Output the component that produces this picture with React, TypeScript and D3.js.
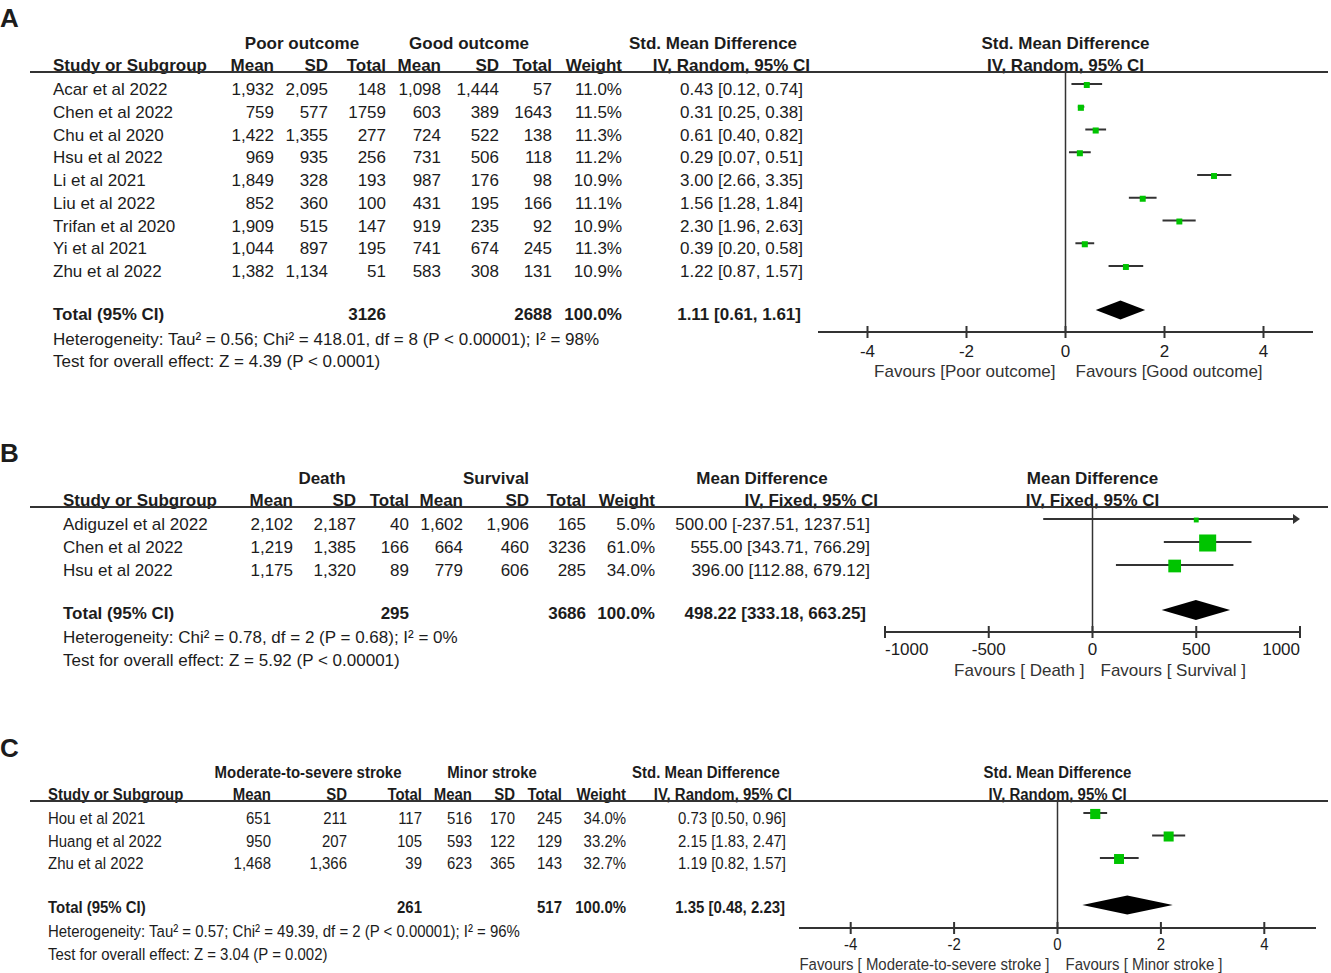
import React from "react";
import * as d3 from "d3";

const W = 1331;
const H = 973;
const FONT = "'Liberation Sans', Arial, Helvetica, sans-serif";
const INK = "#1c1c1c";
const LINE = "#333";
const GREEN = "#00c400";

const loc = d3.formatLocale({ decimal: ".", thousands: ",", grouping: [3], currency: ["", ""], minus: "-" });
const fComma = loc.format(",");
const f2 = loc.format(".2f");
const f1 = loc.format(".1f");
const fTick = loc.format("d");

// ---- panel A : poor vs good outcome
const studiesA = ["Acar et al 2022", "Chen et al 2022", "Chu et al 2020", "Hsu et al 2022", "Li et al 2021", "Liu et al 2022", "Trifan et al 2020", "Yi et al 2021", "Zhu et al 2022"];
const poorMeanA = [1932, 759, 1422, 969, 1849, 852, 1909, 1044, 1382];
const poorSdA = [2095, 577, 1355, 935, 328, 360, 515, 897, 1134];
const poorNA = [148, 1759, 277, 256, 193, 100, 147, 195, 51];
const goodMeanA = [1098, 603, 724, 731, 987, 431, 919, 741, 583];
const goodSdA = [1444, 389, 522, 506, 176, 195, 235, 674, 308];
const goodNA = [57, 1643, 138, 118, 98, 166, 92, 245, 131];
const weightA = [11.0, 11.5, 11.3, 11.2, 10.9, 11.1, 10.9, 11.3, 10.9];
const estA = [0.43, 0.31, 0.61, 0.29, 3.0, 1.56, 2.3, 0.39, 1.22];
const loA = [0.12, 0.25, 0.4, 0.07, 2.66, 1.28, 1.96, 0.2, 0.87];
const hiA = [0.74, 0.38, 0.82, 0.51, 3.35, 1.84, 2.63, 0.58, 1.57];
const totalNA = [3126, 2688];
const totalEffA = [1.11, 0.61, 1.61];
const hetA = "Heterogeneity: Tau² = 0.56; Chi² = 418.01, df = 8 (P < 0.00001); I² = 98%";
const testA = "Test for overall effect: Z = 4.39 (P < 0.0001)";
const ticksA = [-4, -2, 0, 2, 4];

// ---- panel B : death vs survival
const studiesB = ["Adiguzel et al 2022", "Chen et al 2022", "Hsu et al 2022"];
const deathMeanB = [2102, 1219, 1175];
const deathSdB = [2187, 1385, 1320];
const deathNB = [40, 166, 89];
const survMeanB = [1602, 664, 779];
const survSdB = [1906, 460, 606];
const survNB = [165, 3236, 285];
const weightB = [5.0, 61.0, 34.0];
const estB = [500.0, 555.0, 396.0];
const loB = [-237.51, 343.71, 112.88];
const hiB = [1237.51, 766.29, 679.12];
const totalNB = [295, 3686];
const totalEffB = [498.22, 333.18, 663.25];
const hetB = "Heterogeneity: Chi² = 0.78, df = 2 (P = 0.68); I² = 0%";
const testB = "Test for overall effect: Z = 5.92 (P < 0.00001)";
const ticksB = [-1000, -500, 0, 500, 1000];

// ---- panel C : moderate-to-severe vs minor stroke
const studiesC = ["Hou et al 2021", "Huang et al 2022", "Zhu et al 2022"];
const sevMeanC = [651, 950, 1468];
const sevSdC = [211, 207, 1366];
const sevNC = [117, 105, 39];
const minMeanC = [516, 593, 623];
const minSdC = [170, 122, 365];
const minNC = [245, 129, 143];
const weightC = [34.0, 33.2, 32.7];
const estC = [0.73, 2.15, 1.19];
const loC = [0.5, 1.83, 0.82];
const hiC = [0.96, 2.47, 1.57];
const totalNC = [261, 517];
const totalEffC = [1.35, 0.48, 2.23];
const hetC = "Heterogeneity: Tau² = 0.57; Chi² = 49.39, df = 2 (P < 0.00001); I² = 96%";
const testC = "Test for overall effect: Z = 3.04 (P = 0.002)";
const ticksC = [-4, -2, 0, 2, 4];

function T(props: any) {
  const { x, y, sx = 1, anchor = "start", bold = false, size = 17, fill = INK, children } = props;
  return (
    <text
      transform={`translate(${x},${y + size * 0.36}) scale(${sx},1)`}
      textAnchor={anchor}
      fontWeight={bold ? "bold" : "normal"}
      fontSize={size}
      fill={fill}
    >
      {children}
    </text>
  );
}

function Panel(p: any) {
  const { letter, letterY, sx, groups, groupX, h1Y, h2Y, lineY, row0, step, nameX, cols, headEnd, ciEnd, totalY, totalCiEnd, hetY, testY, ciLabel, rightTitle, rows, total, totalN, het, test, fx } = p;
  const x = d3.scaleLinear().domain(fx.domain).range(fx.range);
  const box = d3.scaleSqrt().domain([0, 100]).range([0, fx.boxMax]);
  const rowY = (i: number) => row0 + i * step;
  const heads = ["Mean", "SD", "Total", "Mean", "SD", "Total", "Weight"];
  const [xmin, xmax] = fx.range;
  return (
    <g fontFamily={FONT}>
      <T x={0} y={letterY} size={26} bold>{letter}</T>
      {groups.map((g: string, i: number) => (
        <T key={g} x={groupX[i]} y={h1Y} sx={sx} anchor="middle" bold>{g}</T>
      ))}
      <T x={x(0)} y={h1Y} sx={sx} anchor="middle" bold>{rightTitle}</T>
      <T x={nameX} y={h2Y} sx={sx} bold>Study or Subgroup</T>
      {heads.map((h, i) => (
        <T key={i} x={cols[i]} y={h2Y} sx={sx} anchor="end" bold>{h}</T>
      ))}
      <T x={headEnd} y={h2Y} sx={sx} anchor="end" bold>{ciLabel}</T>
      <T x={x(0)} y={h2Y} sx={sx} anchor="middle" bold>{ciLabel}</T>
      <line x1={30} x2={1328} y1={lineY} y2={lineY} stroke={LINE} strokeWidth={2} />

      {rows.map((r: any, i: number) => {
        const cells = [fComma(r.m1), fComma(r.s1), String(r.n1), fComma(r.m2), fComma(r.s2), String(r.n2), f1(r.w) + "%"];
        return (
          <g key={r.name}>
            <T x={nameX} y={rowY(i)} sx={sx}>{r.name}</T>
            {cells.map((c, j) => (
              <T key={j} x={cols[j]} y={rowY(i)} sx={sx} anchor="end">{c}</T>
            ))}
            <T x={ciEnd} y={rowY(i)} sx={sx} anchor="end">{`${f2(r.est)} [${f2(r.lo)}, ${f2(r.hi)}]`}</T>
          </g>
        );
      })}

      <T x={nameX} y={totalY} sx={sx} bold>Total (95% CI)</T>
      <T x={cols[2]} y={totalY} sx={sx} anchor="end" bold>{String(totalN[0])}</T>
      <T x={cols[5]} y={totalY} sx={sx} anchor="end" bold>{String(totalN[1])}</T>
      <T x={cols[6]} y={totalY} sx={sx} anchor="end" bold>100.0%</T>
      <T x={totalCiEnd} y={totalY} sx={sx} anchor="end" bold>{`${f2(total[0])} [${f2(total[1])}, ${f2(total[2])}]`}</T>
      <T x={nameX} y={hetY} sx={sx}>{het}</T>
      <T x={nameX} y={testY} sx={sx}>{test}</T>

      {/* forest plot */}
      <line x1={x(0)} x2={x(0)} y1={lineY} y2={fx.axisY} stroke={LINE} strokeWidth={1.5} />
      {rows.map((r: any, i: number) => {
        const cy = rowY(i) + fx.markOff;
        const x1 = Math.max(xmin, x(r.lo));
        const x2 = Math.min(xmax, x(r.hi));
        const s = box(r.w);
        return (
          <g key={"f" + i}>
            <line x1={x1} x2={r.hi > fx.domain[1] ? x2 - 4 : x2} y1={cy} y2={cy} stroke={LINE} strokeWidth={2} />
            {r.hi > fx.domain[1] && (
              <path d={`M${xmax},${cy} L${xmax - 7},${cy - 5} L${xmax - 7},${cy + 5} Z`} fill={LINE} />
            )}
            <rect x={x(r.est) - s / 2} y={cy + 1 - s / 2} width={s} height={s} fill={GREEN} />
          </g>
        );
      })}
      {(() => {
        const cy = totalY + fx.diamondOff;
        const h = fx.diamondH / 2;
        return (
          <path
            d={`M${x(total[1])},${cy} L${x(total[0])},${cy - h} L${x(total[2])},${cy} L${x(total[0])},${cy + h} Z`}
            fill="#000"
          />
        );
      })()}
      <line x1={xmin} x2={xmax} y1={fx.axisY} y2={fx.axisY} stroke={LINE} strokeWidth={2} />
      {fx.ticks.map((t: number, i: number) => {
        const edge = fx.edgeLabels && (i === 0 || i === fx.ticks.length - 1);
        const anchor = edge ? (i === 0 ? "start" : "end") : "middle";
        return (
          <g key={"t" + t}>
            <line x1={x(t)} x2={x(t)} y1={fx.axisY - 6} y2={fx.axisY + 6} stroke={LINE} strokeWidth={2} />
            <T x={x(t)} y={fx.tickY} sx={sx} anchor={anchor}>{fTick(t)}</T>
          </g>
        );
      })}
      <T x={x(0) - fx.favGap} y={fx.favY} sx={sx} anchor="end" fill="#333">{fx.favL}</T>
      <T x={x(0) + fx.favGap} y={fx.favY} sx={sx} fill="#333">{fx.favR}</T>
    </g>
  );
}

function zipRows(names: string[], m1: number[], s1: number[], n1: number[], m2: number[], s2: number[], n2: number[], w: number[], est: number[], lo: number[], hi: number[]) {
  return names.map((name, i) => ({ name, m1: m1[i], s1: s1[i], n1: n1[i], m2: m2[i], s2: s2[i], n2: n2[i], w: w[i], est: est[i], lo: lo[i], hi: hi[i] }));
}

export default function App() {
  const rowsA = zipRows(studiesA, poorMeanA, poorSdA, poorNA, goodMeanA, goodSdA, goodNA, weightA, estA, loA, hiA);
  const rowsB = zipRows(studiesB, deathMeanB, deathSdB, deathNB, survMeanB, survSdB, survNB, weightB, estB, loB, hiB);
  const rowsC = zipRows(studiesC, sevMeanC, sevSdC, sevNC, minMeanC, minSdC, minNC, weightC, estC, loC, hiC);

  return (
    <svg width={W} height={H} style={{ position: "absolute", left: 0, top: 0, background: "#fff" }}>
      <rect width={W} height={H} fill="#fff" />
      <Panel
        letter="A" letterY={18} sx={1}
        groups={["Poor outcome", "Good outcome", "Std. Mean Difference"]} groupX={[302, 469, 713]}
        h1Y={43} h2Y={65} lineY={72} row0={89} step={22.75} nameX={53}
        cols={[274, 328, 386, 441, 499, 552, 622]} headEnd={810} ciEnd={803}
        totalY={314} totalCiEnd={801} hetY={339} testY={361}
        ciLabel="IV, Random, 95% CI" rightTitle="Std. Mean Difference"
        rows={rowsA} total={totalEffA} totalN={totalNA} het={hetA} test={testA}
        fx={{ domain: [-5, 5], range: [818, 1313], ticks: ticksA, edgeLabels: false, axisY: 332, tickY: 351, favY: 371, favGap: 10, favL: "Favours [Poor outcome]", favR: "Favours [Good outcome]", boxMax: 18, diamondH: 19, markOff: -5, diamondOff: -4 }}
      />
      <Panel
        letter="B" letterY={453} sx={1}
        groups={["Death", "Survival", "Mean Difference"]} groupX={[322, 496, 762]}
        h1Y={478} h2Y={500} lineY={507} row0={524} step={23} nameX={63}
        cols={[293, 356, 409, 463, 529, 586, 655]} headEnd={878} ciEnd={870}
        totalY={613} totalCiEnd={866} hetY={637} testY={660}
        ciLabel="IV, Fixed, 95% CI" rightTitle="Mean Difference"
        rows={rowsB} total={totalEffB} totalN={totalNB} het={hetB} test={testB}
        fx={{ domain: [-1000, 1000], range: [885, 1300], ticks: ticksB, edgeLabels: true, axisY: 632, tickY: 649, favY: 670, favGap: 8, favL: "Favours [ Death ]", favR: "Favours [ Survival ]", boxMax: 21.8, diamondH: 20, markOff: -5, diamondOff: -3 }}
      />
      <Panel
        letter="C" letterY={748} sx={0.88}
        groups={["Moderate-to-severe stroke", "Minor stroke", "Std. Mean Difference"]} groupX={[308, 492, 706]}
        h1Y={772} h2Y={794} lineY={801} row0={818} step={22.5} nameX={48}
        cols={[271, 347, 422, 472, 515, 562, 626]} headEnd={792} ciEnd={786}
        totalY={907} totalCiEnd={785} hetY={931} testY={954}
        ciLabel="IV, Random, 95% CI" rightTitle="Std. Mean Difference"
        rows={rowsC} total={totalEffC} totalN={totalNC} het={hetC} test={testC}
        fx={{ domain: [-5, 5], range: [799, 1316], ticks: ticksC, edgeLabels: false, axisY: 928, tickY: 944, favY: 964, favGap: 8, favL: "Favours [ Moderate-to-severe stroke ]", favR: "Favours [ Minor stroke ]", boxMax: 17.4, diamondH: 19, markOff: -5, diamondOff: -2 }}
      />
    </svg>
  );
}
